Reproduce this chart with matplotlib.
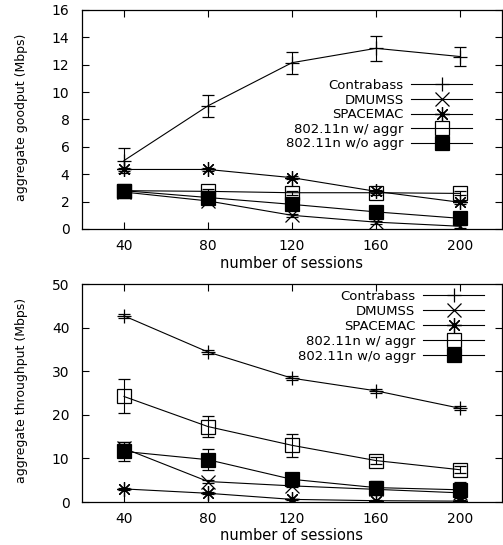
import matplotlib
matplotlib.use("Agg")
import matplotlib.pyplot as plt
from matplotlib.lines import Line2D

plt.rcParams['font.family'] = ['DejaVu Sans']

sessions = [40, 80, 120, 160, 200]
series_names = ["Contrabass", "DMUMSS", "SPACEMAC", "802.11n w/ aggr", "802.11n w/o aggr"]

# Top: aggregate goodput (Mbps)
good_contrabass = [5.0, 9.0, 12.15, 13.2, 12.6]
good_contrabass_err = [0.9, 0.8, 0.8, 0.9, 0.7]
good_dmumss = [2.7, 2.05, 1.0, 0.5, 0.2]
good_dmumss_err = [0.1, 0.1, 0.1, 0.1, 0.1]
good_spacemac = [4.35, 4.35, 3.75, 2.75, 1.95]
good_spacemac_err = [0.1, 0.1, 0.1, 0.1, 0.1]
good_aggr = [2.8, 2.75, 2.65, 2.65, 2.6]
good_aggr_err = [0.15, 0.15, 0.15, 0.15, 0.15]
good_noaggr = [2.8, 2.3, 1.8, 1.25, 0.78]
good_noaggr_err = [0.1, 0.1, 0.1, 0.1, 0.1]

# Bottom: aggregate throughput (Mbps)
thr_contrabass = [42.7, 34.4, 28.4, 25.5, 21.5]
thr_contrabass_err = [0.5, 0.5, 0.5, 0.5, 0.5]
thr_dmumss = [12.3, 4.7, 3.7, 2.9, 2.1]
thr_dmumss_err = [1.5, 0.3, 0.3, 0.3, 0.3]
thr_spacemac = [3.0, 2.0, 0.6, 0.3, 0.2]
thr_spacemac_err = [0.2, 0.2, 0.2, 0.2, 0.2]
thr_aggr = [24.2, 17.3, 13.0, 9.5, 7.4]
thr_aggr_err = [3.9, 2.4, 2.7, 0.8, 0.8]
thr_noaggr = [11.6, 9.7, 5.2, 3.3, 2.8]
thr_noaggr_err = [2.1, 2.4, 0.8, 1.6, 1.8]

styles = [
    dict(marker='+', ms=10, mfc='black', mec='black'),
    dict(marker='x', ms=9.5, mfc='black', mec='black'),
    dict(marker=(8, 2, 0), ms=10.5, mfc='black', mec='black'),
    dict(marker='s', ms=10, mfc='none', mec='black'),
    dict(marker='s', ms=10, mfc='black', mec='black'),
]

fig = plt.figure(figsize=(5.03, 5.45), dpi=100)
ax1 = fig.add_axes([82/503, 1-229/545, 420/503, 219/545])
ax2 = fig.add_axes([82/503, 1-502/545, 420/503, 218/545])

FS_TICK = 10
FS_LEG = 9.5

def draw(ax, data, ylim, yticks, ylabel, anchor, spacing):
    for (vals, errs), st in zip(data, styles):
        ax.errorbar(sessions, vals, yerr=errs, color='black', lw=0.8,
                    elinewidth=0.8, capsize=4.5, capthick=0.8,
                    mew=0.9, **st)
    ax.set_xlim(20, 220)
    ax.set_ylim(*ylim)
    ax.set_xticks(sessions)
    ax.set_yticks(yticks)
    ax.tick_params(direction='in', length=5, width=0.8, top=True, right=True,
                   labelsize=FS_TICK)
    ax.tick_params(axis='y', pad=9)
    ax.tick_params(axis='x', pad=7)
    for s in ax.spines.values():
        s.set_linewidth(0.9)
    ax.set_xlabel("number of sessions", fontsize=10.5, labelpad=2)
    ax.set_ylabel(ylabel, fontsize=9)
    ax.yaxis.set_label_coords(-0.128, 0.51)
    handles = [Line2D([], [], color='black', lw=0.8, mew=0.9, **st) for st in styles]
    ax.legend(handles, series_names, loc='upper right', bbox_to_anchor=anchor,
              frameon=False, markerfirst=False, fontsize=FS_LEG, handlelength=4.6,
              handletextpad=0.6, labelspacing=spacing, borderpad=0, borderaxespad=0)

draw(ax1, [(good_contrabass, good_contrabass_err), (good_dmumss, good_dmumss_err),
           (good_spacemac, good_spacemac_err), (good_aggr, good_aggr_err),
           (good_noaggr, good_noaggr_err)],
     (0, 16), range(0, 17, 2), "aggregate goodput (Mbps)", (0.929, 0.685), 0.12)
draw(ax2, [(thr_contrabass, thr_contrabass_err), (thr_dmumss, thr_dmumss_err),
           (thr_spacemac, thr_spacemac_err), (thr_aggr, thr_aggr_err),
           (thr_noaggr, thr_noaggr_err)],
     (0, 50), range(0, 51, 10), "aggregate throughput (Mbps)", (0.957, 0.972), 0.15)

fig.savefig("out.png", dpi=100)
